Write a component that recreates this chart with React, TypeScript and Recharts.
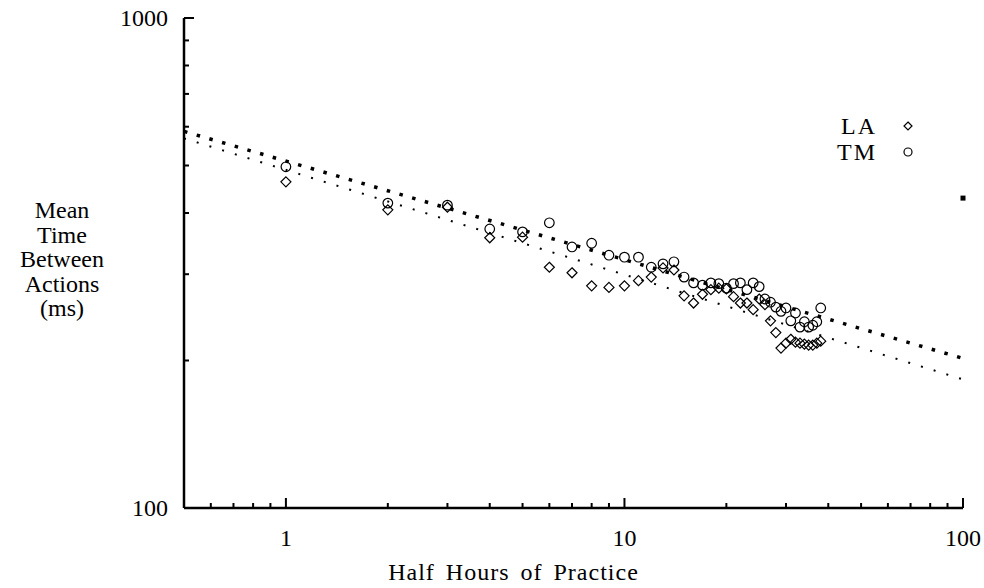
import { ComposedChart, Scatter, Line, XAxis, YAxis, Legend } from "recharts";

// half-hour sessions 1..38
const hours = [
  1, 2, 3, 4, 5, 6, 7, 8, 9, 10, 11, 12, 13, 14, 15, 16, 17, 18, 19, 20,
  21, 22, 23, 24, 25, 26, 27, 28, 29, 30, 31, 32, 33, 34, 35, 36, 37, 38,
];
const laTime = [
  463, 406, 411, 356, 357, 310, 302, 284, 282, 284, 291, 296, 309, 306, 271, 262, 273, 279, 281, 280,
  270, 262, 262, 254, 267, 260, 241, 228, 212, 217, 221, 218, 217, 216, 215, 215, 217, 219,
];
const tmTime = [
  497, 419, 415, 371, 366, 382, 341, 347, 328, 325, 325, 310, 315, 318, 296, 288, 285, 288, 287, 281,
  287, 288, 279, 288, 283, 267, 263, 257, 252, 256, 241, 250, 234, 240, 234, 236, 240, 256,
];

// power-law fits, end points
const fitHours = [0.5, 100];
const laFit = [568, 183];
const tmFit = [587, 202];

// lone marker at the right edge
const extraHours = [100];
const extraTime = [429];

const xTicks = [
  0.6, 0.7, 0.8, 0.9, 1, 2, 3, 4, 5, 6, 7, 8, 9, 10, 20, 30, 40, 50, 60, 70, 80, 90, 100,
];
const xMajor = [1, 10, 100];
const yTicks = [100, 200, 300, 400, 500, 600, 700, 800, 900, 1000];
const yMajor = [100, 1000];

const txt = { fontFamily: "Liberation Serif", fontSize: 24, fill: "#000" };

const laData = hours.map((h, i) => ({ x: h, y: laTime[i] }));
const tmData = hours.map((h, i) => ({ x: h, y: tmTime[i] }));
const fitData = fitHours.map((h, i) => ({ x: h, la: laFit[i], tm: tmFit[i] }));
const extraData = extraHours.map((h, i) => ({ x: h, y: extraTime[i] }));

const Diamond = ({ cx, cy }: any) => (
  <polygon
    points={`${cx},${cy - 5} ${cx + 5},${cy} ${cx},${cy + 5} ${cx - 5},${cy}`}
    fill="none"
    stroke="#000"
    strokeWidth={1.2}
  />
);

const Ring = ({ cx, cy }: any) => (
  <circle cx={cx} cy={cy} r={4.8} fill="none" stroke="#000" strokeWidth={1.2} />
);

const Square = ({ cx, cy }: any) => (
  <rect x={cx - 2.5} y={cy - 2.5} width={5} height={5} fill="#000" />
);

const XTick = ({ x, y, payload }: any) => {
  const major = xMajor.includes(payload.value);
  return (
    <g>
      <line x1={x} x2={x} y1={y} y2={y - (major ? 10 : 5)} stroke="#000" strokeWidth={2} />
      {major && (
        <text x={x} y={y + 38} textAnchor="middle" style={txt}>
          {payload.value}
        </text>
      )}
    </g>
  );
};

const YTick = ({ x, y, payload }: any) => {
  const major = yMajor.includes(payload.value);
  return (
    <g>
      <line x1={x} x2={x + (major ? 10 : 5)} y1={y} y2={y} stroke="#000" strokeWidth={2} />
      {major && (
        <text x={x - 16} y={y + 8} textAnchor="end" style={txt}>
          {payload.value}
        </text>
      )}
    </g>
  );
};

const YTitle = ({ viewBox }: any) => {
  const lines = ["Mean", "Time", "Between", "Actions", "(ms)"];
  const cy = viewBox.y + 241;
  return (
    <text textAnchor="middle" style={txt}>
      {lines.map((l, i) => (
        <tspan key={l} x={62} y={cy + (i - 2) * 24.5 + 8}>
          {l}
        </tspan>
      ))}
    </text>
  );
};

const XTitle = ({ viewBox }: any) => (
  <text
    x={viewBox.x + viewBox.width / 2 - 60}
    y={580}
    textAnchor="middle"
    style={{ ...txt, letterSpacing: 1, wordSpacing: 4 }}
  >
    Half Hours of Practice
  </text>
);

const KeyBox = () => (
  <svg width={130} height={70} style={{ display: "block" }}>
    <text x={77} y={34} textAnchor="end" style={{ ...txt, letterSpacing: 2 }}>LA</text>
    <polygon points="108,22 112,26 108,30 104,26" fill="none" stroke="#000" strokeWidth={1.2} />
    <text x={77} y={60} textAnchor="end" style={{ ...txt, letterSpacing: 2 }}>TM</text>
    <circle cx={108} cy={52} r={4} fill="none" stroke="#000" strokeWidth={1.2} />
  </svg>
);

export default function App() {
  return (
    <>
      <style>{"body{margin:0;background:#fff}"}</style>
      <ComposedChart width={984} height={588} margin={{ top: 18, right: 21, left: 0, bottom: 0 }}>
        <XAxis
          dataKey="x"
          type="number"
          scale="log"
          domain={[0.5, 100]}
          ticks={xTicks}
          interval={0}
          height={80}
          tickSize={0}
          tickMargin={0}
          tick={<XTick />}
          axisLine={{ stroke: "#000", strokeWidth: 2.5 }}
          tickLine={false}
          label={<XTitle />}
        />
        <YAxis
          type="number"
          scale="log"
          domain={[100, 1000]}
          ticks={yTicks}
          interval={0}
          width={184}
          tickSize={0}
          tickMargin={0}
          tick={<YTick />}
          axisLine={{ stroke: "#000", strokeWidth: 2.5 }}
          tickLine={false}
          label={<YTitle />}
        />
        <Legend
          layout="vertical"
          align="center"
          verticalAlign="middle"
          content={<KeyBox />}
          wrapperStyle={{ position: "absolute", left: 800, top: 100, width: 130 }}
        />
        <Line
          data={fitData}
          dataKey="tm"
          type="linear"
          stroke="#000"
          strokeWidth={3.5}
          strokeDasharray="3.5 9.7"
          dot={false}
          isAnimationActive={false}
          legendType="none"
        />
        <Line
          data={fitData}
          dataKey="la"
          type="linear"
          stroke="#000"
          strokeWidth={2}
          strokeDasharray="2 11.3"
          dot={false}
          isAnimationActive={false}
          legendType="none"
        />
        <Scatter data={laData} dataKey="y" shape={<Diamond />} isAnimationActive={false} />
        <Scatter data={tmData} dataKey="y" shape={<Ring />} isAnimationActive={false} />
        <Scatter data={extraData} dataKey="y" shape={<Square />} isAnimationActive={false} />
      </ComposedChart>
    </>
  );
}
